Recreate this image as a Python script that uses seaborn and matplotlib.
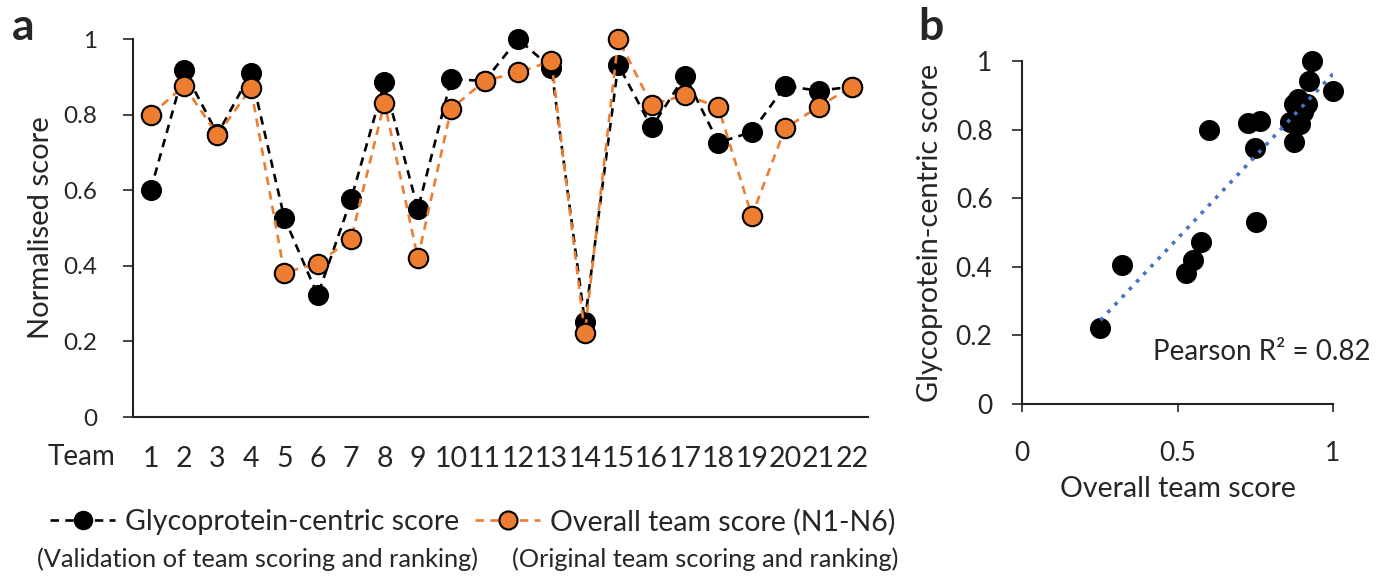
import numpy as np
import pandas as pd
import matplotlib
matplotlib.use("Agg")
import matplotlib.pyplot as plt
from matplotlib.lines import Line2D
import seaborn as sns

teams = list(range(1, 23))
glyco = [0.601, 0.917, 0.748, 0.910, 0.527, 0.322, 0.576, 0.885, 0.550, 0.894, 0.889,
         1.000, 0.923, 0.252, 0.932, 0.766, 0.903, 0.726, 0.754, 0.876, 0.863, 0.874]
overall = [0.799, 0.876, 0.746, 0.870, 0.382, 0.406, 0.471, 0.832, 0.420, 0.816, 0.889,
           0.912, 0.941, 0.221, 1.000, 0.826, 0.852, 0.820, 0.532, 0.764, 0.821, 0.874]
y_ticks = [0, 0.2, 0.4, 0.6, 0.8, 1]
y_tick_labels = ["0", "0.2", "0.4", "0.6", "0.8", "1"]
bx_ticks = [0, 0.5, 1]
bx_tick_labels = ["0", "0.5", "1"]

sns.set_theme(style="white")
plt.rcParams["font.family"] = ["Lato", "DejaVu Sans"]

ORANGE = "#ED7D31"
BLUE = "#4472C4"
W, H = 1389, 580

fig = plt.figure(figsize=(W / 100, H / 100), dpi=100)

def axes_px(l, r, b, t):
    return fig.add_axes([l / W, 1 - b / H, (r - l) / W, (b - t) / H])

# ---------- panel a ----------
ax1 = axes_px(133, 868, 417, 39)
df = pd.DataFrame({"team": teams, "glyco": glyco, "overall": overall})
dash = (0, (3.2, 2.4))
sns.lineplot(data=df, x="team", y="glyco", ax=ax1, color="black", marker="o",
             markersize=14, markeredgecolor="black", markeredgewidth=1.2,
             linestyle=dash, linewidth=1.9, clip_on=False, zorder=3)
sns.lineplot(data=df, x="team", y="overall", ax=ax1, color=ORANGE, marker="o",
             markersize=14, markerfacecolor=ORANGE, markeredgecolor="black",
             markeredgewidth=1.5, linestyle=dash, linewidth=1.9, clip_on=False, zorder=4)
ax1.set_xlim(0.47, 22.48)
ax1.set_ylim(0, 1)
ax1.set_yticks(y_ticks)
ax1.set_yticklabels(y_tick_labels)
ax1.set_xticks(teams)
ax1.set_xticklabels([str(t) for t in teams])
ax1.tick_params(axis="x", length=0, pad=21, labelsize=20.5)
ax1.tick_params(axis="y", direction="out", length=7.2, width=1.2, pad=18.5, labelsize=17.5, left=True)
for s in ["top", "right"]:
    ax1.spines[s].set_visible(False)
for s in ["left", "bottom"]:
    ax1.spines[s].set_color("#222222")
    ax1.spines[s].set_linewidth(1.5)
ax1.set_xlabel("")
ax1.set_ylabel("Normalised score", fontsize=21, labelpad=7)
fig.text(82 / W, 1 - 457 / H, "Team", fontsize=20, ha="center", va="center")
fig.text(12 / W, 1 - 27 / H, "a", fontsize=32, fontweight="bold", ha="left", va="center")

# legend
h1 = Line2D([], [], color="black", linestyle=dash, linewidth=1.9, marker="o",
            markersize=13, markerfacecolor="black", markeredgecolor="black")
h2 = Line2D([], [], color=ORANGE, linestyle=dash, linewidth=1.9, marker="o",
            markersize=13, markerfacecolor=ORANGE, markeredgecolor="black", markeredgewidth=1.5)
fig.legend([h1, h2], ["Glycoprotein-centric score", "Overall team score (N1-N6)"],
           loc="center left", bbox_to_anchor=(50 / W, 1 - 522 / H), ncol=2,
           frameon=False, fontsize=20.5, handlelength=2.3, handletextpad=0.33,
           columnspacing=0.55, borderpad=0, borderaxespad=0, numpoints=1)
fig.text(37 / W, 1 - 559 / H, "(Validation of team scoring and ranking)", fontsize=18.3,
         ha="left", va="center")
fig.text(512 / W, 1 - 559 / H, "(Original team scoring and ranking)", fontsize=18.3,
         ha="left", va="center")

# ---------- panel b ----------
ax2 = axes_px(1022, 1333, 404, 61)
sns.regplot(x=np.array(glyco), y=np.array(overall), ax=ax2, ci=None,
            scatter_kws=dict(s=230, color="black", edgecolor="black", linewidths=0,
                             alpha=1, clip_on=False, zorder=3),
            line_kws=dict(color=BLUE, linestyle=(0, (1, 1.9)), linewidth=2.6, zorder=4))
ax2.set_xlim(0, 1)
ax2.set_ylim(0, 1)
ax2.set_xticks(bx_ticks)
ax2.set_xticklabels(bx_tick_labels)
ax2.set_yticks(y_ticks)
ax2.set_yticklabels(y_tick_labels)
ax2.tick_params(axis="x", direction="out", length=5.8, width=1.2, pad=21, labelsize=19, bottom=True)
ax2.tick_params(axis="y", direction="out", length=7.2, width=1.2, pad=14, labelsize=19, left=True)
for s in ["top", "right"]:
    ax2.spines[s].set_visible(False)
for s in ["left", "bottom"]:
    ax2.spines[s].set_color("#222222")
    ax2.spines[s].set_linewidth(1.5)
ax2.set_xlabel("Overall team score", fontsize=20.5, labelpad=7)
ax2.set_ylabel("Glycoprotein-centric score", fontsize=20.8, labelpad=9)
ax2.text(1.12, 0.152, "Pearson R\u00b2 = 0.82", transform=ax2.transAxes, fontsize=20,
         ha="right", va="center")
fig.text(918 / W, 1 - 27 / H, "b", fontsize=32, fontweight="bold", ha="left", va="center")

fig.savefig("out.png", dpi=100)
